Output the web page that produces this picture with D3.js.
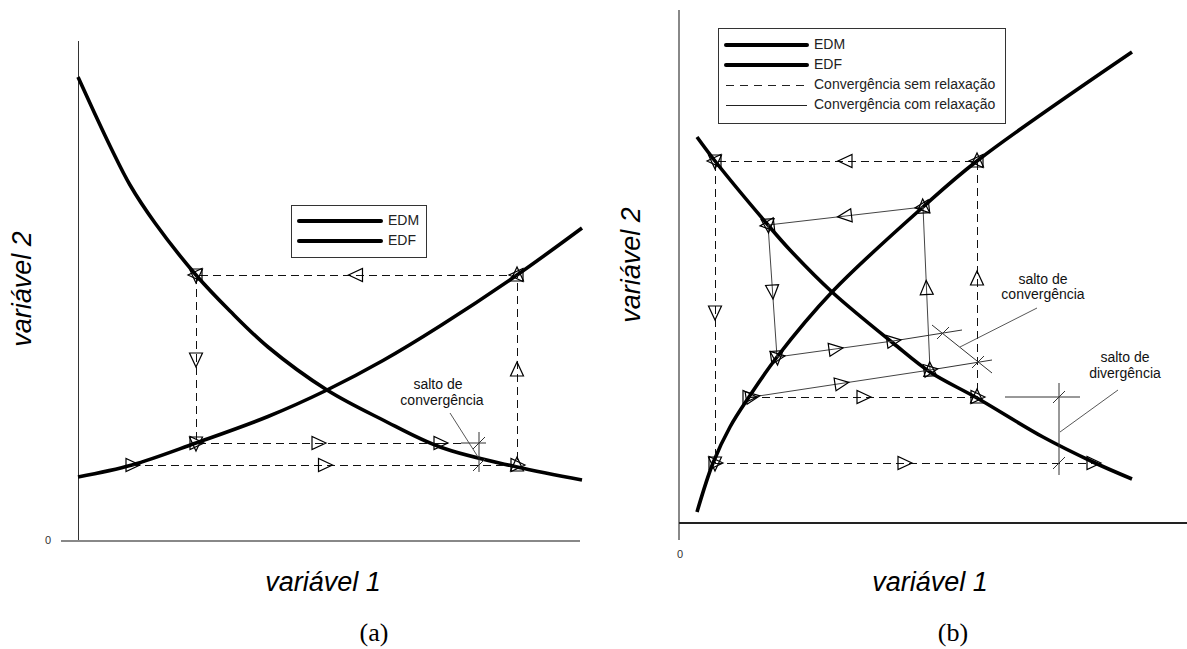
<!DOCTYPE html>
<html>
<head>
<meta charset="utf-8">
<script src="https://cdn.jsdelivr.net/npm/d3@7"></script>
<style>
  body { margin: 0; background: #fff; }
  text { font-family: "Liberation Sans", Arial, sans-serif; }
</style>
</head>
<body>
<svg id="chart" width="1187" height="649"></svg>
<script>
// ---- panel (a) data (variável 1, variável 2) ----
const edmA = [[0,92.8],[3.2,85.8],[6.6,78.6],[10.4,71.2],[15.4,63.6],[23.6,53.2],[30.4,46],[38,38.8],[49.8,30.2],[61,24.2],[72.4,18.8],[87.8,14.8],[100.8,12.2]];
const edfA = [[0,12.8],[10.8,15.2],[23.6,19.6],[38,24.9],[49.8,30.2],[61,36.1],[72.4,43],[87.8,53.2],[100.8,62.6]];
const iterA = [[10.8,15.2],[87.8,15.2],[87.8,53.2],[23.6,53.2],[23.6,19.6],[72.4,19.6]];
const extA = [[[72.4,19.6],[77,19.6]]];                       // dashed continuation
const dimA = [[[76.6,19.6],[81.6,19.6]], [[80.2,21.8],[80.2,13.8]]];
const tickA = [[80.2,19.6],[80.2,15.2]];
const leaderA = [[74.4,25.6],[80,16.8]];
const noteA = [{t: "salto de", p: [72,31.2]}, {t: "convergência", p: [72.8,28]}];

// ---- panel (b) data ----
const edmB = [[3.6,77.2],[7.2,72.4],[17.8,59.6],[22.2,54.6],[30.6,46.2],[42.8,36],[50.2,30.2],[59.6,25],[72.8,17.2],[82.8,12.2],[90.6,8.8]];
const edfB = [[3.6,2.2],[6.8,12],[10.2,19.2],[14,25.2],[19.6,33.2],[30.6,46.2],[48.8,63.2],[59.6,72.4],[90.6,94.2]];
const iterB = [[14,25.2],[59.6,25.2],[59.6,72.4],[7.2,72.4],[7.2,12],[82.8,12]];
const relaxB = [[14.6,25.2],[50.2,30.6],[48.8,63.2],[17.8,59.6],[19.6,33.2],[42.8,36.4]];
const dimB = [
  [[50.2,30.6],[62.6,32.6]], [[42.8,36.4],[56.6,38.6]], [[50.6,39.6],[62.6,30]],   // convergência
  [[76,28],[76,9.6]], [[65.2,25.2],[80.2,25.2]]                                    // divergência
];
const tickB = [[52.8,38],[59.8,32.2],[76,25.2],[76,12]];
const leaderB = [[[71.6,43],[56.2,35.2]], [[87.8,26.6],[76.2,18.2]]];
const noteB = [
  {t: "salto de", p: [72.8,48.6]}, {t: "convergência", p: [72.8,45.6]},
  {t: "salto de", p: [89.2,33]}, {t: "divergência", p: [89.2,29.8]}
];

const legendA = ["EDM", "EDF"];
const legendB = ["EDM", "EDF", "Convergência sem relaxação", "Convergência com relaxação"];

const svg = d3.select("#chart");

// scales
const xA = d3.scaleLinear().domain([0, 100]).range([78, 578]);
const yA = d3.scaleLinear().domain([0, 100]).range([541, 41]);
const xB = d3.scaleLinear().domain([0, 100]).range([679, 1179]);
const yB = d3.scaleLinear().domain([0, 100]).range([523, 23]);

// triangle pointing along +x
const triPath = "M8,0L-6,-6.5L-6,6.5Z";

function drawPanel(x, y, o) {
  const g = svg.append("g");
  const line = d3.line().x(d => x(d[0])).y(d => y(d[1]));
  const curve = d3.line().x(d => x(d[0])).y(d => y(d[1])).curve(d3.curveCatmullRom);

  // axes
  g.append("line").attr("x1", x(0)).attr("x2", x(0))
    .attr("y1", y(o.yAxis[0])).attr("y2", y(o.yAxis[1]))
    .attr("stroke", o.yAxisColor).attr("stroke-width", o.yAxisW)
    .attr("shape-rendering", "crispEdges");
  g.append("line").attr("x1", x(o.xAxis[0])).attr("x2", x(o.xAxis[1]))
    .attr("y1", y(0)).attr("y2", y(0))
    .attr("stroke", o.xAxisColor).attr("stroke-width", o.xAxisW)
    .attr("shape-rendering", "crispEdges");
  g.append("text").attr("x", o.zero[0]).attr("y", o.zero[1])
    .attr("text-anchor", "middle").attr("dominant-baseline", "middle")
    .attr("font-size", 11).attr("fill", "#333").text("0");

  // curves
  [o.edm, o.edf].forEach(c => g.append("path").attr("d", curve(c))
    .attr("fill", "none").attr("stroke", "#000").attr("stroke-width", 3.6)
    .attr("stroke-linejoin", "round"));

  // iteration paths
  const paths = [{pts: o.iter, dash: "8,5", color: "#111", crisp: true}];
  if (o.relax) paths.push({pts: o.relax, dash: null, color: "#444", crisp: false});
  paths.forEach(p => {
    g.append("path").attr("d", line(p.pts)).attr("fill", "none")
      .attr("stroke", p.color).attr("stroke-width", 1)
      .attr("stroke-dasharray", p.dash)
      .attr("shape-rendering", p.crisp ? "crispEdges" : null);
  });
  (o.ext || []).forEach(s => g.append("path").attr("d", line(s))
    .attr("stroke", "#111").attr("stroke-dasharray", "8,5").attr("fill", "none")
    .attr("shape-rendering", "crispEdges"));

  // dimension lines & leaders
  o.dims.forEach(s => g.append("path").attr("d", line(s))
    .attr("stroke", "#333").attr("stroke-width", 1).attr("fill", "none"));
  o.leaders.forEach(s => g.append("path").attr("d", line(s))
    .attr("stroke", "#444").attr("stroke-width", 0.9).attr("fill", "none"));
  o.ticks.forEach(t => g.append("line")
    .attr("x1", x(t[0]) - 6).attr("y1", y(t[1]) + 6)
    .attr("x2", x(t[0]) + 6).attr("y2", y(t[1]) - 6)
    .attr("stroke", "#333").attr("stroke-width", 1));

  // direction markers: start, middle, end of every step
  paths.forEach(p => {
    const marks = [];
    for (let i = 0; i < p.pts.length - 1; i++) {
      const a = p.pts[i], b = p.pts[i + 1];
      const ang = Math.atan2(y(b[1]) - y(a[1]), x(b[0]) - x(a[0])) * 180 / Math.PI;
      [0, 0.5, 1].forEach(t => marks.push({
        px: x(a[0] + (b[0] - a[0]) * t), py: y(a[1] + (b[1] - a[1]) * t), ang
      }));
    }
    g.selectAll(null).data(marks).enter().append("path")
      .attr("d", triPath)
      .attr("transform", d => `translate(${d.px},${d.py}) rotate(${d.ang})`)
      .attr("fill", "none")
      .attr("stroke", "#000").attr("stroke-width", 1.2);
  });

  // notes
  o.notes.forEach(n => g.append("text").attr("x", x(n.p[0])).attr("y", y(n.p[1]))
    .attr("text-anchor", "middle").attr("dominant-baseline", "middle")
    .attr("font-size", 14).attr("fill", "#111").text(n.t));

  // legend
  const L = o.legend;
  const lg = g.append("g").attr("transform", `translate(${L.x},${L.y})`);
  lg.append("rect").attr("width", L.w).attr("height", L.h)
    .attr("fill", "#fff").attr("stroke", "#333").attr("stroke-width", 1)
    .attr("shape-rendering", "crispEdges");
  L.items.forEach((name, i) => {
    const ly = L.top + i * 20;
    lg.append("line").attr("x1", L.lx0).attr("x2", L.lx1).attr("y1", ly).attr("y2", ly)
      .attr("stroke", i < 2 ? "#000" : "#222")
      .attr("stroke-width", i < 2 ? 4 : 1)
      .attr("stroke-dasharray", i === 2 ? "8,6" : null)
      .attr("stroke-linecap", i < 2 ? "round" : "butt")
      .attr("shape-rendering", i < 2 ? null : "crispEdges");
    lg.append("text").attr("x", L.lx1 + 7).attr("y", ly)
      .attr("dominant-baseline", "middle").attr("font-size", 14)
      .attr("fill", "#222").text(name);
  });

  // axis titles
  g.append("text").attr("x", o.xTitle[0]).attr("y", o.xTitle[1])
    .attr("text-anchor", "middle").attr("font-size", 27).attr("font-style", "italic")
    .text("variável 1");
  g.append("text").attr("transform", `translate(${o.yTitle[0]},${o.yTitle[1]}) rotate(-90)`)
    .attr("text-anchor", "middle").attr("font-size", 27).attr("font-style", "italic")
    .text("variável 2");
  g.append("text").attr("x", o.tag[0]).attr("y", o.tag[1])
    .attr("text-anchor", "middle").attr("font-size", 26)
    .style("font-family", "'Liberation Serif', 'Times New Roman', serif")
    .text(o.tagText);
}

drawPanel(xA, yA, {
  edm: edmA, edf: edfA, iter: iterA, relax: null, ext: extA,
  dims: dimA, ticks: tickA, leaders: [leaderA], notes: noteA,
  yAxis: [0, 100], xAxis: [-3.4, 100.4],
  yAxisColor: "#333", yAxisW: 1, xAxisColor: "#888", xAxisW: 2,
  zero: [48, 541],
  legend: {x: 291, y: 205, w: 135, h: 52, top: 16, lx0: 8, lx1: 90, items: legendA},
  xTitle: [323, 591], yTitle: [31, 289], tag: [374, 641], tagText: "(a)"
});

drawPanel(xB, yB, {
  edm: edmB, edf: edfB, iter: iterB, relax: relaxB,
  dims: dimB, ticks: tickB, leaders: leaderB, notes: noteB,
  yAxis: [-3.4, 102.6], xAxis: [0, 101.6],
  yAxisColor: "#888", yAxisW: 2, xAxisColor: "#222", xAxisW: 1.5,
  zero: [680, 555],
  legend: {x: 718, y: 28, w: 287, h: 95, top: 17, lx0: 8, lx1: 89, items: legendB},
  xTitle: [930, 591], yTitle: [640, 265], tag: [953, 641], tagText: "(b)"
});
</script>
</body>
</html>
